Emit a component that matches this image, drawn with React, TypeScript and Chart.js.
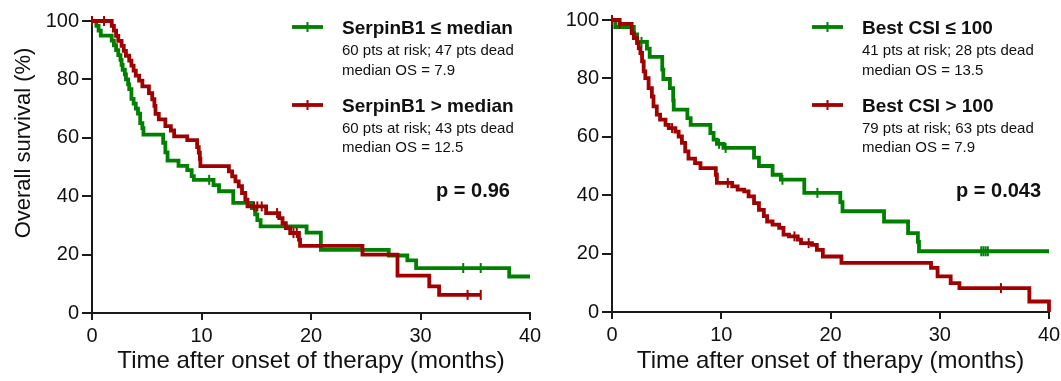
import React, { useEffect, useRef } from "react";
import { Chart, registerables } from "chart.js";

Chart.register(...registerables);

const FONT = '"Liberation Sans", Arial, Helvetica, sans-serif';
const TEXT = "#111111";
const AXIS = "#1a1a1a";
const GREEN = "#008000";
const RED = "#a00000";

const X_TICKS = [0, 10, 20, 30, 40];
const Y_TICKS = [0, 20, 40, 60, 80, 100];
const X_TITLE = "Time after onset of therapy (months)";
const Y_TITLE = "Overall survival (%)";

// ---- Left panel: SerpinB1 ----
const L_GREEN_T = [0, 0.4, 0.6, 0.8, 1.8, 2.0, 2.2, 2.4, 2.6, 2.7, 2.8, 3.0, 3.1, 3.3, 3.4, 3.6, 3.8, 4.0, 4.2, 4.4, 4.6, 4.7, 6.5, 6.7, 6.9, 7.9, 8.7, 9.1, 9.3, 11.1, 11.6, 12.9, 14.6, 14.9, 15.1, 15.4, 19.6, 20.9, 27.1, 28.8, 29.6, 38.1, 40];
const L_GREEN_S = [100, 98.3, 96.7, 95, 93.3, 91.7, 90, 88.3, 86.7, 85, 83.3, 81.7, 80, 78.3, 76.7, 73.3, 71.7, 70, 68.3, 65, 63.3, 61.1, 58.3, 55, 52.2, 50.4, 48.9, 46.9, 45.6, 43.8, 41.7, 37.7, 35.9, 33.8, 31.8, 29.7, 27.5, 21.6, 19.7, 18, 15.4, 12.5, 12.5];
const L_GREEN_CENS_T = [10.7, 33.9, 35.5];
const L_GREEN_CENS_S = [45.6, 15.4, 15.4];

const L_RED_T = [0, 1.8, 2.0, 2.2, 2.4, 2.7, 2.9, 3.1, 3.4, 3.6, 3.8, 4.0, 4.3, 4.6, 5.2, 5.5, 5.7, 5.8, 6.1, 6.7, 7.2, 7.5, 8.7, 9.6, 9.75, 9.85, 9.9, 12.5, 12.8, 13.1, 13.4, 13.7, 14.0, 14.2, 15.9, 17.1, 17.4, 17.7, 18.1, 18.9, 19.0, 24.7, 27.9, 30.8, 31.7, 35.5];
const L_RED_S = [100, 98.3, 96.7, 94.9, 93.2, 91.5, 89.8, 88.1, 86.4, 84.7, 83, 81.3, 79.6, 77.6, 75.3, 73.2, 70.9, 68.2, 66.3, 64, 62.5, 60.5, 59.2, 56.8, 54.9, 52.8, 50.3, 48.5, 46.8, 45.1, 43.4, 41.1, 38.8, 36.5, 34.2, 32.5, 30.8, 29.1, 27.4, 25.1, 23.0, 20.0, 12.8, 9.1, 6.2, 6.2];
const L_RED_CENS_T = [0, 1.1, 14.8, 15.1, 15.5, 16.9, 18.4, 18.7, 34.3, 35.5];
const L_RED_CENS_S = [100, 100, 36.5, 36.5, 36.5, 34.2, 27.4, 27.4, 6.2, 6.2];

const L_LEGEND = [
  "SerpinB1 \u2264 median",
  "60 pts at risk; 47 pts dead",
  "median OS = 7.9",
  "SerpinB1 > median",
  "60 pts at risk; 43 pts dead",
  "median OS = 12.5",
];
const L_P = "p = 0.96";

// ---- Right panel: Best CSI ----
const R_GREEN_T = [0, 0.3, 2.0, 2.3, 3.2, 3.45, 4.6, 4.7, 5.3, 5.6, 5.65, 6.9, 7.2, 9.0, 9.3, 9.6, 10.2, 13.0, 13.45, 14.7, 15.45, 17.6, 20.9, 21.1, 24.9, 27.1, 28.0, 28.1, 40];
const R_GREEN_S = [100, 97.6, 95.1, 92.5, 90.2, 87.4, 83.0, 79.8, 76.7, 72.5, 69.3, 66.4, 64.1, 61.3, 59.0, 57.6, 56.2, 52.9, 50.0, 47.0, 45.3, 40.8, 37.6, 34.5, 31.0, 27.0, 24.0, 20.8, 20.8];
const R_GREEN_CENS_T = [2.7, 9.8, 10.4, 15.6, 18.8, 33.8, 34.0, 34.2, 34.4];
const R_GREEN_CENS_S = [92.5, 57.6, 56.2, 45.3, 40.8, 20.8, 20.8, 20.8, 20.8];

const R_RED_T = [0, 0.7, 1.8, 2.0, 2.3, 2.45, 2.6, 2.75, 2.9, 3.05, 3.35, 3.65, 3.8, 4.1, 4.4, 4.9, 5.2, 5.8, 6.1, 6.4, 6.7, 7.0, 7.6, 8.1, 9.5, 9.6, 11.0, 11.5, 12.1, 12.5, 13.0, 13.45, 13.9, 14.2, 14.7, 15.3, 15.7, 16.2, 17.0, 17.3, 18.3, 18.75, 19.3, 21.0, 29.2, 29.8, 31.0, 31.8, 38.2, 40];
const R_RED_S = [100, 98.7, 95.5, 93.8, 92.1, 90.4, 88.7, 85.8, 82.4, 80.1, 76.7, 73.8, 70.4, 67.6, 65.9, 64.1, 63.0, 61.8, 60.1, 57.9, 55.0, 52.5, 51.0, 49.3, 47.0, 44.2, 43.0, 41.9, 41.3, 39.6, 37.3, 35.0, 32.8, 31.0, 29.9, 28.8, 26.5, 25.9, 24.8, 23.6, 23.0, 21.3, 19.0, 16.8, 15.1, 12.2, 9.9, 8.2, 3.6, 0];
const R_RED_CENS_T = [0, 0.7, 5.5, 10.6, 16.7, 18.0, 35.6];
const R_RED_CENS_S = [100, 98.7, 63.0, 44.2, 25.9, 23.6, 8.2];

const R_LEGEND = [
  "Best CSI \u2264 100",
  "41 pts at risk; 28 pts dead",
  "median OS = 13.5",
  "Best CSI > 100",
  "79 pts at risk; 63 pts dead",
  "median OS = 7.9",
];
const R_P = "p = 0.043";

// text row centres (px from top of canvas)
const ROW_Y = [28.5, 50.5, 70.5, 106.5, 128.5, 148];
const P_Y = 191;

type Curve = { t: number[]; s: number[]; ct: number[]; cs: number[]; color: string };

function pts(t: number[], s: number[]) {
  return t.map((x, i) => ({ x, y: s[i] }));
}

type PanelProps = {
  left: number;
  width: number;
  yAxisWidth: number;
  padTop: number;
  padRight: number;
  xAxisHeight: number;
  green: Curve;
  red: Curve;
  legend: string[];
  pText: string;
  yTitle?: string;
};

function KMPanel(props: PanelProps) {
  const ref = useRef<HTMLCanvasElement>(null);
  useEffect(() => {
    const canvas = ref.current!;
    const { green, red, legend, pText, yTitle } = props;

    const lineDs = (c: Curve) => ({
      type: "line",
      data: pts(c.t, c.s),
      borderColor: c.color,
      borderWidth: 3.8,
      stepped: "before",
      pointRadius: 0,
      fill: false,
      clip: false,
      borderCapStyle: "butt",
      borderJoinStyle: "miter",
    });
    const censDs = (c: Curve) => ({
      type: "line",
      data: pts(c.ct, c.cs),
      showLine: false,
      pointStyle: "line",
      pointRotation: 90,
      pointRadius: 5,
      pointBorderWidth: 2,
      pointBorderColor: c.color,
      pointBackgroundColor: c.color,
      clip: false,
    });

    const overlay = {
      id: "kmOverlay",
      afterDraw(chart: any) {
        const { ctx, chartArea } = chart;
        const L = chartArea.left;
        ctx.save();
        // legend markers
        [green, red].forEach((c, gi) => {
          const y = ROW_Y[gi * 3] - 1.5;
          ctx.strokeStyle = c.color;
          ctx.lineWidth = 3.8;
          ctx.beginPath();
          ctx.moveTo(L + 200, y);
          ctx.lineTo(L + 231, y);
          ctx.stroke();
          ctx.lineWidth = 2;
          ctx.beginPath();
          ctx.moveTo(L + 215.5, y - 5);
          ctx.lineTo(L + 215.5, y + 5);
          ctx.stroke();
        });
        ctx.fillStyle = TEXT;
        ctx.textBaseline = "middle";
        ctx.textAlign = "left";
        legend.forEach((txt, i) => {
          const bold = i % 3 === 0;
          ctx.font = bold ? `bold 19px ${FONT}` : `15px ${FONT}`;
          ctx.fillText(txt, L + 250, ROW_Y[i]);
        });
        ctx.font = `bold 20px ${FONT}`;
        ctx.fillText(pText, L + 344, P_Y);
        if (yTitle) {
          ctx.translate(24, 143);
          ctx.rotate(-Math.PI / 2);
          ctx.textAlign = "center";
          ctx.font = `22px ${FONT}`;
          ctx.fillText(yTitle, 0, 0);
        }
        ctx.restore();
      },
    };

    const chart = new Chart(canvas, {
      type: "line",
      data: { datasets: [censDs(red), censDs(green), lineDs(red), lineDs(green)] as any },
      options: {
        animation: false,
        responsive: false,
        events: [],
        layout: { padding: { left: 0, right: props.padRight, top: props.padTop, bottom: 0 } },
        plugins: { legend: { display: false }, tooltip: { enabled: false }, title: { display: false } },
        scales: {
          x: {
            type: "linear",
            min: 0,
            max: 40,
            afterBuildTicks: (s: any) => {
              s.ticks = X_TICKS.map((v) => ({ value: v }));
            },
            afterFit: (s: any) => {
              s.height = props.xAxisHeight;
            },
            ticks: {
              font: { family: FONT, size: 20, lineHeight: 1.6 },
              color: TEXT,
              padding: 0,
              maxRotation: 0,
              autoSkip: false,
            },
            grid: {
              display: true,
              drawOnChartArea: false,
              drawTicks: true,
              tickLength: 7,
              tickWidth: 2,
              tickColor: AXIS,
              lineWidth: 2,
              color: AXIS,
            },
            border: { display: true, color: AXIS, width: 2 },
            title: {
              display: true,
              text: X_TITLE,
              font: { family: FONT, size: 24 },
              color: TEXT,
              padding: { top: 0, bottom: 5.2 },
            },
          },
          y: {
            type: "linear",
            min: 0,
            max: 100,
            afterBuildTicks: (s: any) => {
              s.ticks = Y_TICKS.map((v) => ({ value: v }));
            },
            afterFit: (s: any) => {
              s.width = props.yAxisWidth;
            },
            ticks: {
              font: { family: FONT, size: 20 },
              color: TEXT,
              padding: 3,
              autoSkip: false,
            },
            grid: {
              display: true,
              drawOnChartArea: false,
              drawTicks: true,
              tickLength: 10,
              tickWidth: 2,
              tickColor: AXIS,
              lineWidth: 2,
              color: AXIS,
            },
            border: { display: true, color: AXIS, width: 2 },
          },
        },
      } as any,
      plugins: [overlay],
    });
    return () => chart.destroy();
  }, []);

  return (
    <canvas
      ref={ref}
      width={props.width}
      height={381}
      style={{ position: "absolute", left: props.left, top: 0, width: props.width, height: 381, display: "block" }}
    />
  );
}

export default function App() {
  return (
    <div
      style={{
        position: "fixed",
        left: 0,
        top: 0,
        width: 1061,
        height: 381,
        overflow: "hidden",
        background: "#ffffff",
      }}
    >
      <KMPanel
        left={0}
        width={545}
        yAxisWidth={92}
        padTop={21}
        padRight={15}
        xAxisHeight={68}
        green={{ t: L_GREEN_T, s: L_GREEN_S, ct: L_GREEN_CENS_T, cs: L_GREEN_CENS_S, color: GREEN }}
        red={{ t: L_RED_T, s: L_RED_S, ct: L_RED_CENS_T, cs: L_RED_CENS_S, color: RED }}
        legend={L_LEGEND}
        pText={L_P}
        yTitle={Y_TITLE}
      />
      <KMPanel
        left={545}
        width={516}
        yAxisWidth={67}
        padTop={20}
        padRight={12}
        xAxisHeight={69}
        green={{ t: R_GREEN_T, s: R_GREEN_S, ct: R_GREEN_CENS_T, cs: R_GREEN_CENS_S, color: GREEN }}
        red={{ t: R_RED_T, s: R_RED_S, ct: R_RED_CENS_T, cs: R_RED_CENS_S, color: RED }}
        legend={R_LEGEND}
        pText={R_P}
      />
    </div>
  );
}
